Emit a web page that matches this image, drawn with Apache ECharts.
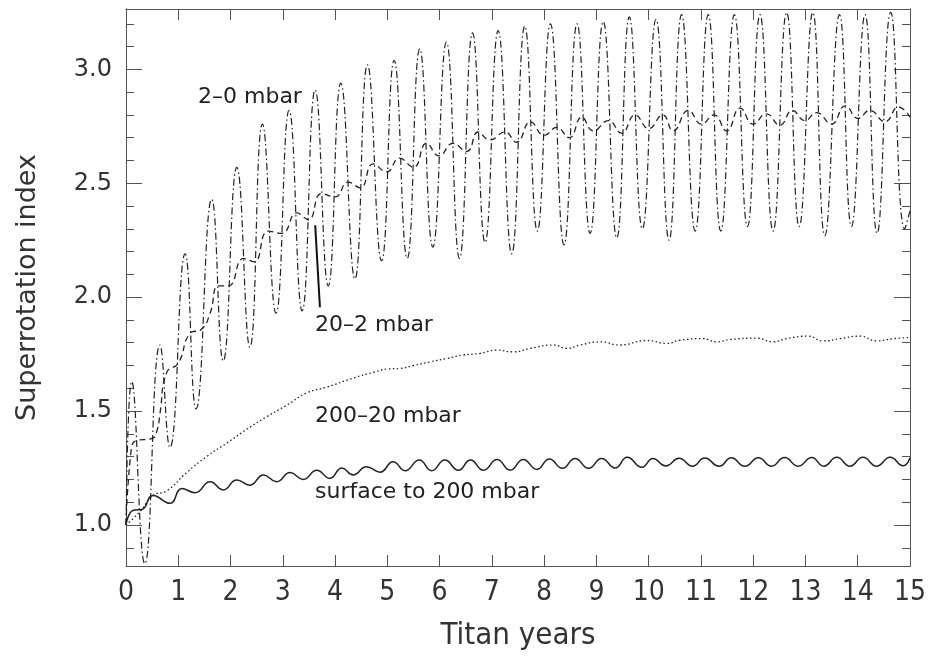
<!DOCTYPE html>
<html><head><meta charset="utf-8">
<script src="https://cdn.jsdelivr.net/npm/echarts@6/dist/echarts.min.js"></script>
<style>html,body{margin:0;padding:0;background:#fff}#c{width:933px;height:661px}</style>
</head><body><div id="c"></div>
<script>
// ---- data ----
const xTickValues = [0,1,2,3,4,5,6,7,8,9,10,11,12,13,14,15];
const yTickLabels = [1.0,1.5,2.0,2.5,3.0];
const yMinorTicks = [0.9,1.1,1.2,1.3,1.4,1.6,1.7,1.8,1.9,2.1,2.2,2.3,2.4,2.6,2.7,2.8,2.9,3.1,3.2];
const seriesNames = ['2–0 mbar','20–2 mbar','200–20 mbar','surface to 200 mbar'];

// 2-0 mbar: [Titan years, index]
const band2to0 = [
[0,1.0],[0.11,1.63],[0.36,0.83],[0.65,1.79],[0.84,1.34],[1.13,2.19],[1.34,1.51],[1.64,2.43],
[1.86,1.72],[2.12,2.57],[2.37,1.78],[2.61,2.76],[2.87,1.93],[3.12,2.82],[3.37,1.94],[3.62,2.91],
[3.87,2.05],[4.11,2.94],[4.38,2.08],[4.62,3.02],[4.89,2.16],[5.13,3.04],[5.38,2.17],[5.62,3.09],
[5.87,2.22],[6.13,3.12],[6.38,2.17],[6.63,3.16],[6.87,2.24],[7.12,3.17],[7.38,2.19],[7.63,3.19],
[7.87,2.29],[8.12,3.20],[8.38,2.23],[8.63,3.20],[8.88,2.28],[9.13,3.21],[9.39,2.26],[9.63,3.23],
[9.88,2.30],[10.14,3.22],[10.39,2.25],[10.63,3.24],[10.89,2.29],[11.14,3.24],[11.38,2.29],[11.64,3.24],
[11.89,2.31],[12.13,3.24],[12.38,2.29],[12.64,3.25],[12.88,2.31],[13.14,3.25],[13.37,2.27],[13.65,3.24],
[13.88,2.31],[14.14,3.24],[14.37,2.28],[14.63,3.25],[14.9,2.30],[15,2.38]
];
// 20-2 mbar
const band20to2 = [
[0,1.0],[0.1,1.33],[0.19,1.37],[0.5,1.38],[0.6,1.42],[0.65,1.49],[0.78,1.67],[1.0,1.71],
[1.22,1.84],[1.45,1.86],[1.61,1.93],[1.77,2.05],[1.96,2.05],[2.25,2.17],[2.45,2.155],[2.72,2.29],
[2.98,2.28],[3.27,2.37],[3.49,2.34],[3.74,2.455],[4.0,2.44],[4.25,2.505],[4.48,2.48],[4.73,2.585],
[4.99,2.55],[5.23,2.61],[5.5,2.57],[5.75,2.675],[5.99,2.62],[6.25,2.675],[6.52,2.64],[6.74,2.725],
[6.96,2.69],[7.25,2.725],[7.47,2.68],[7.74,2.77],[8.0,2.71],[8.24,2.745],[8.48,2.70],[8.72,2.79],
[8.94,2.73],[9.23,2.775],[9.48,2.72],[9.74,2.80],[10.0,2.74],[10.27,2.80],[10.47,2.73],[10.76,2.82],
[11.01,2.76],[11.25,2.80],[11.49,2.73],[11.75,2.83],[12.0,2.76],[12.25,2.805],[12.51,2.755],[12.75,2.82],
[12.99,2.775],[13.21,2.81],[13.5,2.76],[13.76,2.84],[14.01,2.785],[14.23,2.82],[14.52,2.77],[14.78,2.835],
[15,2.79]
];
// 200-20 mbar
const band200to20 = [
[0,1.0],[0.27,1.06],[0.52,1.13],[0.78,1.15],[1.16,1.23],[1.54,1.30],[1.93,1.36],[2.31,1.42],
[2.69,1.475],[3.07,1.525],[3.46,1.58],[3.84,1.605],[4.35,1.645],[4.73,1.67],[5.02,1.685],[5.24,1.687],
[5.5,1.70],[5.82,1.716],[6.14,1.731],[6.45,1.746],[6.77,1.753],[7.09,1.768],[7.41,1.76],[7.73,1.775],
[8.18,1.79],[8.43,1.775],[8.69,1.79],[9.07,1.804],[9.45,1.79],[9.96,1.81],[10.34,1.797],[10.6,1.811],
[11.04,1.818],[11.3,1.804],[11.56,1.814],[12.07,1.82],[12.38,1.804],[12.64,1.818],[13.05,1.829],[13.34,1.808],
[13.66,1.818],[14.04,1.829],[14.36,1.808],[14.68,1.818],[15,1.823]
];
// surface to 200 mbar
const bandSurface = [
[0,1.0],[0.14,1.065],[0.3,1.068],[0.52,1.13],[0.84,1.095],[1.07,1.16],[1.32,1.142],[1.61,1.19],
[1.86,1.154],[2.12,1.197],[2.37,1.175],[2.63,1.22],[2.88,1.19],[3.14,1.23],[3.39,1.20],[3.65,1.24],
[3.9,1.205],[4.13,1.25],[4.35,1.22],[4.6,1.256],[4.86,1.232],[5.11,1.278],[5.34,1.238],[5.61,1.285],
[5.85,1.238],[6.1,1.285],[6.36,1.24],[6.59,1.285],[6.84,1.24],[7.1,1.287],[7.35,1.241],[7.6,1.288],
[7.86,1.244],[8.1,1.29],[8.35,1.249],[8.59,1.292],[8.85,1.249],[9.1,1.292],[9.36,1.25],[9.59,1.297],
[9.87,1.253],[10.08,1.292],[10.33,1.259],[10.58,1.293],[10.84,1.258],[11.07,1.294],[11.35,1.258],[11.58,1.295],
[11.84,1.258],[12.1,1.295],[12.35,1.258],[12.6,1.296],[12.86,1.258],[13.12,1.296],[13.35,1.258],[13.6,1.297],
[13.85,1.258],[14.1,1.297],[14.36,1.258],[14.62,1.297],[14.87,1.26],[15,1.295]
];
// pointer from the "20-2 mbar" label to its curve
const pointerStart = [3.62, 2.316];
const pointerEnd = [3.71, 1.956];
const xRange = [0, 15];
const yRange = [0.82, 3.265];

// ---- chart ----
const chart = echarts.init(document.getElementById('c'), null, {renderer:'canvas'});
const INK = '#222';
const AX = '#555';
const tickFont = '"DejaVu Sans", sans-serif';
const condFont = '"DejaVu Sans Condensed","Liberation Sans Narrow",sans-serif';

function yAxisDef(pos, major, showLabel) {
  return {
    type:'value', position:pos, min:yRange[0], max:yRange[1],
    axisLine:{show:true, onZero:false, lineStyle:{color:AX, width:1}},
    splitLine:{show:false},
    axisTick:{show:true, inside:true, length: major ? 16 : 8, customValues: major ? yTickLabels : yMinorTicks,
      lineStyle:{color:AX, width:1}},
    axisLabel:{show:showLabel, customValues:yTickLabels, formatter:v=>v.toFixed(1),
      fontFamily:tickFont, fontSize:24, color:'#333', margin:14},
    name: showLabel ? 'Superrotation index' : '', nameLocation:'middle', nameGap:85, nameRotate:90,
    nameTextStyle:{fontFamily:tickFont, fontSize:27, color:'#333'}
  };
}
function xAxisDef(pos, showLabel) {
  return {
    type:'value', position:pos, min:xRange[0], max:xRange[1], interval:1,
    axisLine:{show:true, onZero:false, lineStyle:{color:AX, width:1}},
    splitLine:{show:false},
    axisTick:{show:true, inside:true, length:11, customValues:xTickValues, lineStyle:{color:AX, width:1}},
    axisLabel:{show:showLabel, customValues:xTickValues, fontFamily:condFont,
      fontSize:28, color:'#333', margin:13},
    name: showLabel ? 'Titan years' : '', nameLocation:'middle', nameGap:54,
    nameTextStyle:{fontFamily:condFont, fontSize:31, color:'#333'}
  };
}
function lineSeries(name, data, type, width) {
  return {
    name, type:'line', data, xAxisIndex:0, yAxisIndex:0, showSymbol:false, smooth:0.5,
    clip:true, lineStyle:{color:INK, width, type}, silent:true, z:3
  };
}

const s20 = lineSeries(seriesNames[1], band20to2, [6,4], 1.3);
s20.markLine = {
  silent:true, symbol:['none','none'], label:{show:false},
  lineStyle:{type:'solid', color:'#111', width:2},
  data:[[{coord:pointerStart},{coord:pointerEnd}]]
};

const option = {
  animation:false,
  backgroundColor:'#fff',
  grid:{left:126, right:23, top:9, bottom:95, containLabel:false},
  xAxis:[xAxisDef('bottom', true), xAxisDef('top', false)],
  yAxis:[yAxisDef('left', true, true), yAxisDef('left', false, false),
         yAxisDef('right', true, false), yAxisDef('right', false, false)],
  series:[
    lineSeries(seriesNames[0], band2to0, [7,3,1.5,3], 1.2),
    s20,
    lineSeries(seriesNames[2], band200to20, [1.5,2.5], 1.3),
    lineSeries(seriesNames[3], bandSurface, 'solid', 1.5)
  ],
  graphic:[
    {type:'text', x:198, y:97, style:{text:seriesNames[0], font:'22px "DejaVu Sans"', fill:INK, verticalAlign:'middle'}},
    {type:'text', x:315, y:325, style:{text:seriesNames[1], font:'22px "DejaVu Sans"', fill:INK, verticalAlign:'middle'}},
    {type:'text', x:315, y:416, style:{text:seriesNames[2], font:'22px "DejaVu Sans"', fill:INK, verticalAlign:'middle'}},
    {type:'text', x:315, y:492, style:{text:seriesNames[3], font:'22px "DejaVu Sans"', fill:INK, verticalAlign:'middle'}}
  ]
};
chart.setOption(option);
</script></body></html>
